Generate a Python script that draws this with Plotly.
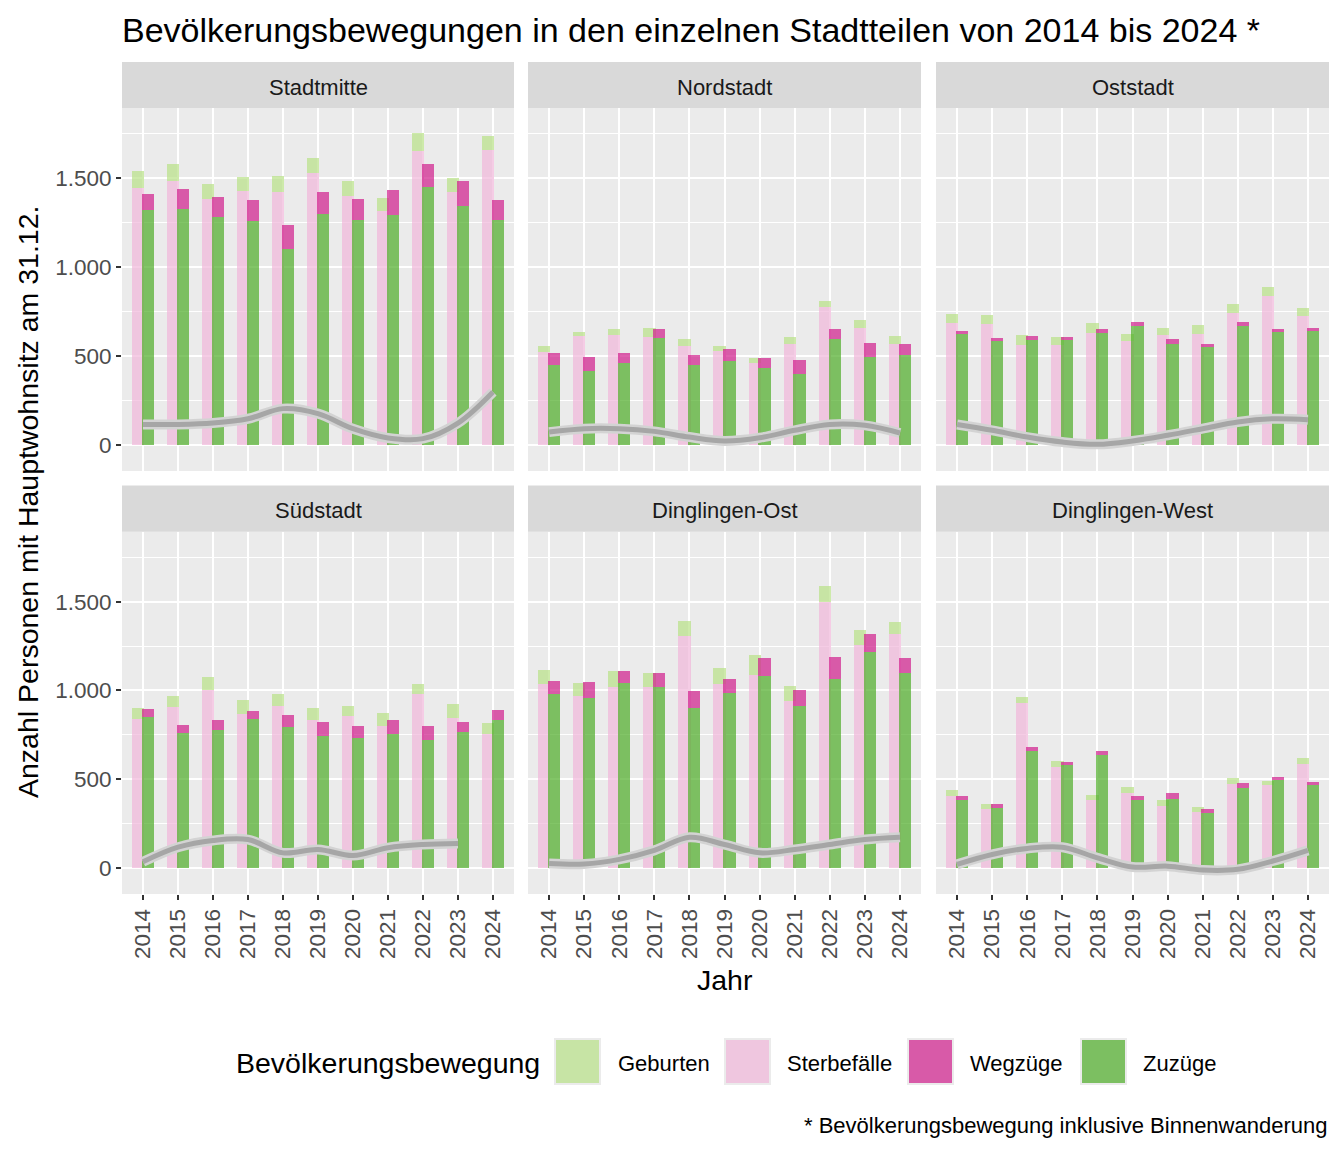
import plotly.graph_objects as go

years = list(range(2014, 2025))
districts = ["Stadtmitte", "Nordstadt", "Oststadt", "Südstadt", "Dinglingen-Ost", "Dinglingen-West"]

sterbefaelle = {
    "Stadtmitte":      [1447, 1483, 1381, 1427, 1423, 1528, 1398, 1314, 1652, 1423, 1659],
    "Nordstadt":       [520, 610, 616, 604, 554, 526, 458, 565, 773, 655, 565],
    "Oststadt":        [683, 678, 559, 559, 627, 582, 616, 623, 740, 835, 726],
    "Südstadt":        [840, 908, 1003, 868, 913, 834, 857, 801, 981, 846, 756],
    "Dinglingen-Ost":  [1037, 969, 1020, 1020, 1307, 1037, 1088, 943, 1498, 1256, 1318],
    "Dinglingen-West": [405, 334, 931, 572, 386, 424, 351, 317, 474, 469, 589],
}
geburten = {
    "Stadtmitte":      [92, 96, 85, 78, 88, 84, 85, 73, 101, 77, 77],
    "Nordstadt":       [34, 23, 33, 51, 39, 28, 30, 39, 34, 45, 45],
    "Oststadt":        [51, 50, 57, 45, 56, 39, 39, 49, 50, 51, 42],
    "Südstadt":        [62, 61, 73, 79, 68, 68, 56, 73, 56, 78, 62],
    "Dinglingen-Ost":  [79, 74, 90, 79, 84, 90, 112, 83, 90, 85, 68],
    "Dinglingen-West": [34, 26, 33, 32, 27, 34, 35, 30, 32, 20, 30],
}
zuzuege = {
    "Stadtmitte":      [1320, 1325, 1280, 1258, 1100, 1297, 1263, 1291, 1449, 1342, 1263],
    "Nordstadt":       [447, 413, 458, 599, 447, 469, 430, 396, 593, 492, 503],
    "Oststadt":        [621, 582, 589, 588, 627, 666, 565, 548, 666, 633, 638],
    "Südstadt":        [851, 761, 778, 840, 795, 744, 733, 756, 722, 767, 834],
    "Dinglingen-Ost":  [981, 958, 1043, 1020, 902, 986, 1082, 913, 1065, 1217, 1099],
    "Dinglingen-West": [384, 339, 660, 581, 637, 386, 392, 311, 452, 497, 469],
}
wegzuege = {
    "Stadtmitte":      [90, 113, 113, 118, 135, 124, 118, 141, 130, 141, 113],
    "Nordstadt":       [67, 79, 56, 50, 56, 68, 56, 79, 56, 79, 62],
    "Oststadt":        [17, 17, 21, 16, 22, 23, 28, 17, 23, 16, 17],
    "Südstadt":        [45, 47, 56, 45, 68, 79, 68, 78, 79, 56, 57],
    "Dinglingen-Ost":  [73, 90, 67, 79, 96, 79, 101, 90, 124, 101, 84],
    "Dinglingen-West": [21, 21, 22, 17, 23, 19, 32, 23, 28, 17, 17],
}
trend = {
    "Stadtmitte":      [114, 114, 122, 146, 203, 175, 90, 38, 34, 122, 297],
    "Nordstadt":       [71, 90, 90, 75, 43, 21, 39, 81, 114, 109, 66],
    "Oststadt":        [114, 81, 43, 15, 2, 21, 53, 90, 128, 146, 141],
    "Südstadt":        [34, 116, 154, 159, 84, 103, 69, 113, 131, 137, None],
    "Dinglingen-Ost":  [24, 21, 47, 98, 172, 131, 84, 103, 131, 159, 172],
    "Dinglingen-West": [19, 75, 109, 116, 56, 4, 9, -13, -9, 38, 98],
}
legend_labels = ["Geburten", "Sterbefälle", "Wegzüge", "Zuzüge"]
y_tickvals = [0, 500, 1000, 1500]
y_ticktext = ["0", "500", "1.000", "1.500"]

W, H = 1344, 1152
FONT = "Liberation Sans, Arial, sans-serif"
C_GEB = "rgba(184,225,134,0.7)"
C_STE = "rgba(241,182,218,0.7)"
C_WEG = "rgba(208,28,139,0.7)"
C_ZUZ = "rgba(77,172,38,0.7)"
KEY_COLORS = ["#c7e4a5", "#efc6df", "#d85aa8", "#7cbf61"]

col_px = [(122, 514), (528, 921), (936, 1329)]
row_px = [(108, 471), (531.7, 894)]
strip_px = [(62, 108), (485.5, 531.7)]

def px_x(v):
    return v / W

def px_y(v):
    return 1 - v / H

fig = go.Figure()
shapes = []
annotations = []

for i, d in enumerate(districts):
    r, c = divmod(i, 3)
    n = i + 1
    xa = "x" if n == 1 else f"x{n}"
    ya = "y" if n == 1 else f"y{n}"
    common = dict(xaxis=xa, yaxis=ya, showlegend=False, marker_line_width=0, width=0.35)
    fig.add_trace(go.Bar(x=years, y=sterbefaelle[d], base=0, offset=-0.315,
                         marker_color=C_STE, name="Sterbefälle", **common))
    fig.add_trace(go.Bar(x=years, y=geburten[d], base=sterbefaelle[d], offset=-0.315,
                         marker_color=C_GEB, name="Geburten", **common))
    fig.add_trace(go.Bar(x=years, y=zuzuege[d], base=0, offset=-0.035,
                         marker_color=C_ZUZ, name="Zuzüge", **common))
    fig.add_trace(go.Bar(x=years, y=wegzuege[d], base=zuzuege[d], offset=-0.035,
                         marker_color=C_WEG, name="Wegzüge", **common))
    fig.add_trace(go.Scatter(x=years, y=trend[d], mode="lines", xaxis=xa, yaxis=ya,
                             line=dict(color="#d3d3d3", width=10, shape="spline", smoothing=1.0),
                             showlegend=False, hoverinfo="skip"))
    fig.add_trace(go.Scatter(x=years, y=trend[d], mode="lines", xaxis=xa, yaxis=ya,
                             line=dict(color="#a6a6a6", width=5, shape="spline", smoothing=1.0),
                             showlegend=False, hoverinfo="skip"))

    x0, x1 = col_px[c]
    y0, y1 = row_px[r]
    xkey = "xaxis" if n == 1 else f"xaxis{n}"
    ykey = "yaxis" if n == 1 else f"yaxis{n}"
    fig.layout[xkey] = dict(
        domain=[px_x(x0), px_x(x1)], anchor=ya, range=[2013.4, 2024.6],
        tickvals=years, ticktext=[str(y) for y in years], tickangle=-90,
        showticklabels=(r == 1), ticks="outside" if r == 1 else "",
        ticklen=5, tickwidth=2, tickcolor="#333333",
        tickfont=dict(family=FONT, size=22.5, color="#4d4d4d"),
        showgrid=True, gridcolor="white", gridwidth=2, zeroline=False, showline=False,
    )
    fig.layout[ykey] = dict(
        domain=[px_y(y1), px_y(y0)], anchor=xa, range=[-148, 1895],
        tickvals=y_tickvals, ticktext=y_ticktext,
        showticklabels=(c == 0), ticks="outside" if c == 0 else "",
        ticklen=5, tickwidth=2, tickcolor="#333333",
        tickfont=dict(family=FONT, size=22.5, color="#4d4d4d"),
        showgrid=True, gridcolor="white", gridwidth=2, zeroline=False, showline=False,
        minor=dict(tickvals=[250, 750, 1250, 1750], showgrid=True, gridcolor="white", gridwidth=1, ticks=""),
    )
    s0, s1 = strip_px[r]
    shapes.append(dict(type="rect", xref="paper", yref="paper",
                       x0=px_x(x0), x1=px_x(x1), y0=px_y(s1), y1=px_y(s0),
                       fillcolor="#d9d9d9", line=dict(width=0), layer="below"))
    annotations.append(dict(text=d, xref="paper", yref="paper", x=px_x((x0 + x1) / 2),
                            y=px_y((s0 + s1) / 2 + 2), xanchor="center", yanchor="middle",
                            showarrow=False, font=dict(family=FONT, size=22, color="#1a1a1a")))

# title
annotations.append(dict(text="Bevölkerungsbewegungen in den einzelnen Stadtteilen von 2014 bis 2024 *",
                        xref="paper", yref="paper", x=px_x(120), y=px_y(30), xanchor="left",
                        yanchor="middle", showarrow=False, font=dict(family=FONT, size=34, color="black")))
# axis titles
annotations.append(dict(text="Anzahl Personen mit Hauptwohnsitz am 31.12.", xref="paper", yref="paper",
                        x=px_x(28), y=px_y(502), xanchor="center", yanchor="middle", textangle=-90,
                        showarrow=False, font=dict(family=FONT, size=28.5, color="black")))
annotations.append(dict(text="Jahr", xref="paper", yref="paper", x=px_x(725), y=px_y(980),
                        xanchor="center", yanchor="middle", showarrow=False,
                        font=dict(family=FONT, size=28.5, color="black")))
# legend
annotations.append(dict(text="Bevölkerungsbewegung", xref="paper", yref="paper", x=px_x(234), y=px_y(1063),
                        xanchor="left", yanchor="middle", showarrow=False,
                        font=dict(family=FONT, size=28.5, color="black")))
key_x = [555, 725, 908, 1081]
label_x = [616, 785, 968, 1141]
for kx, lx, lab, col in zip(key_x, label_x, legend_labels, KEY_COLORS):
    shapes.append(dict(type="rect", xref="paper", yref="paper", x0=px_x(kx), x1=px_x(kx + 45),
                       y0=px_y(1084), y1=px_y(1039), fillcolor=col, line=dict(color="#ebebeb", width=2)))
    annotations.append(dict(text=lab, xref="paper", yref="paper", x=px_x(lx), y=px_y(1063),
                            xanchor="left", yanchor="middle", showarrow=False,
                            font=dict(family=FONT, size=22, color="black")))
# caption
annotations.append(dict(text="* Bevölkerungsbewegung inklusive Binnenwanderung", xref="paper", yref="paper",
                        x=px_x(1329), y=px_y(1125), xanchor="right", yanchor="middle", showarrow=False,
                        font=dict(family=FONT, size=22, color="black")))

fig.update_layout(
    width=W, height=H, margin=dict(l=0, r=0, t=0, b=0),
    paper_bgcolor="white", plot_bgcolor="#ebebeb",
    barmode="overlay", bargap=0, showlegend=False,
    shapes=shapes, annotations=annotations, font=dict(family=FONT),
)
fig.write_html("out.html")
